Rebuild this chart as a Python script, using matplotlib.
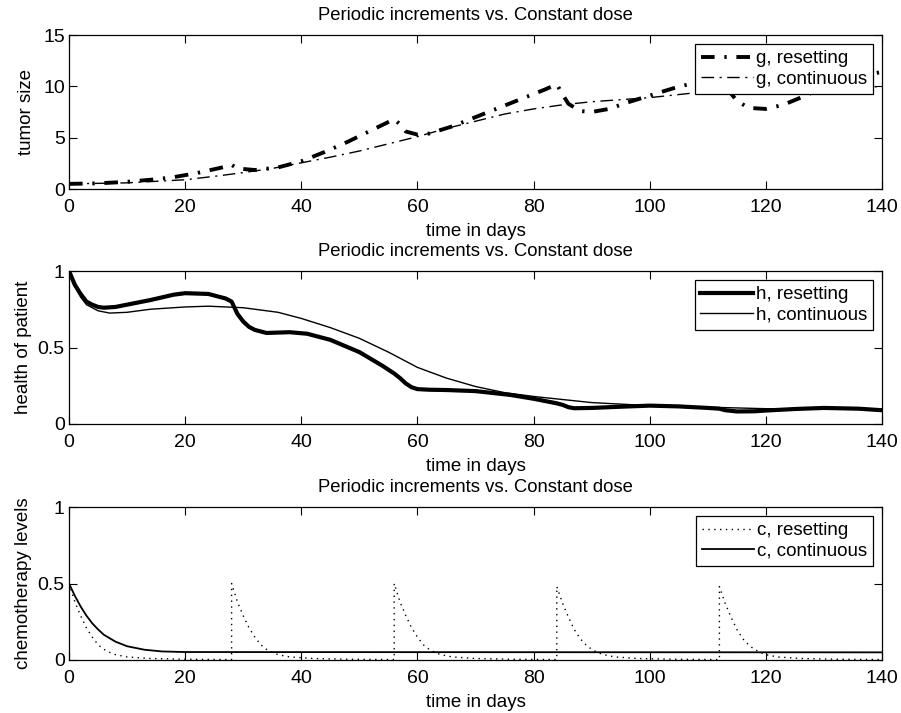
import numpy as np
import matplotlib
matplotlib.use("Agg")
import matplotlib.pyplot as plt

plt.rcParams["font.family"] = ["Liberation Sans", "DejaVu Sans"]
plt.rcParams["font.size"] = 13

TITLE = "Periodic increments vs. Constant dose"
XLABEL = "time in days"

# tumor size
t_g_reset = [0, 5, 10, 15, 18, 22, 26, 28, 29, 32, 36, 40, 44, 48, 52, 56, 57, 58, 60, 62,
             66, 70, 74, 78, 82, 84, 85, 86, 88, 90, 93, 96, 100, 104, 108, 112, 113, 115,
             117, 120, 123, 126, 130, 134, 138, 140]
g_reset = [0.5, 0.55, 0.7, 0.95, 1.15, 1.55, 2.05, 2.35, 2.0, 1.85, 2.1, 2.7, 3.6, 4.6, 5.7,
           6.8, 6.3, 5.6, 5.3, 5.4, 6.1, 7.0, 7.9, 8.8, 9.7, 10.2, 9.2, 8.3, 7.6, 7.5, 7.8,
           8.4, 9.1, 9.8, 10.4, 10.8, 10.0, 8.6, 7.9, 7.8, 8.2, 8.9, 9.9, 10.6, 11.2, 11.4]
t_g_cont = [0, 10, 20, 26, 30, 35, 40, 45, 50, 55, 60, 65, 70, 75, 80, 85, 90, 95, 100, 105,
            110, 115, 120, 125, 130, 135, 140]
g_cont = [0.5, 0.6, 0.9, 1.3, 1.6, 2.0, 2.55, 3.1, 3.7, 4.4, 5.1, 5.9, 6.6, 7.3, 7.8, 8.2,
          8.5, 8.7, 8.9, 9.2, 9.5, 9.7, 9.85, 9.95, 10.0, 10.0, 9.95]

# health of patient
t_h_reset = [0, 1, 2, 3, 4, 5, 6, 8, 10, 14, 18, 20, 24, 27, 28, 29, 30, 31, 32, 34, 38, 41,
             45, 50, 54, 56, 57, 58, 59, 60, 62, 65, 70, 76, 80, 84, 85, 86, 87, 90, 95, 100,
             105, 110, 112, 113, 115, 118, 120, 125, 130, 136, 140]
h_reset = [1.0, 0.91, 0.85, 0.8, 0.78, 0.765, 0.76, 0.765, 0.78, 0.81, 0.845, 0.855, 0.85,
           0.82, 0.80, 0.72, 0.67, 0.635, 0.615, 0.595, 0.6, 0.59, 0.55, 0.47, 0.38, 0.33,
           0.30, 0.265, 0.24, 0.228, 0.224, 0.222, 0.215, 0.19, 0.165, 0.135, 0.125, 0.11,
           0.103, 0.105, 0.113, 0.12, 0.115, 0.105, 0.1, 0.09, 0.082, 0.083, 0.088, 0.098,
           0.105, 0.1, 0.09]
t_h_cont = [0, 1, 2, 3, 5, 7, 10, 14, 20, 24, 30, 36, 40, 45, 50, 55, 60, 65, 70, 75, 80, 85,
            90, 95, 100, 105, 110, 115, 120, 130, 140]
h_cont = [1.0, 0.9, 0.83, 0.78, 0.74, 0.725, 0.73, 0.75, 0.765, 0.77, 0.76, 0.73, 0.69, 0.63,
          0.56, 0.47, 0.37, 0.3, 0.245, 0.205, 0.18, 0.16, 0.14, 0.13, 0.12, 0.115, 0.11,
          0.105, 0.1, 0.1, 0.095]

# chemotherapy levels
t_c_reset = [0, 1, 2, 3, 4, 5, 6, 7, 8, 10, 14, 20, 28,
             28, 29, 30, 31, 32, 33, 34, 35, 36, 38, 42, 48, 56,
             56, 57, 58, 59, 60, 61, 62, 63, 64, 66, 70, 76, 84,
             84, 85, 86, 87, 88, 89, 90, 91, 92, 94, 98, 104, 112,
             112, 113, 114, 115, 116, 117, 118, 119, 120, 122, 126, 132, 140]
c_reset = [0.5, 0.38, 0.29, 0.21, 0.15, 0.1, 0.07, 0.05, 0.035, 0.02, 0.01, 0.005, 0.003,
           0.5, 0.38, 0.29, 0.21, 0.15, 0.1, 0.07, 0.05, 0.035, 0.02, 0.01, 0.005, 0.003,
           0.5, 0.38, 0.29, 0.21, 0.15, 0.1, 0.07, 0.05, 0.035, 0.02, 0.01, 0.005, 0.003,
           0.48, 0.37, 0.28, 0.2, 0.14, 0.1, 0.07, 0.05, 0.035, 0.02, 0.01, 0.005, 0.003,
           0.48, 0.37, 0.28, 0.2, 0.14, 0.1, 0.07, 0.05, 0.035, 0.02, 0.01, 0.005, 0.003]
t_c_cont = [0, 1, 2, 3, 4, 5, 6, 8, 10, 13, 16, 20, 140]
c_cont = [0.5, 0.42, 0.35, 0.29, 0.24, 0.2, 0.165, 0.12, 0.09, 0.067, 0.056, 0.052, 0.05]


def style_axes(ax, yticks, ylabels, ylim):
    ax.set_xlim(0, 140)
    ax.set_ylim(*ylim)
    ax.set_xticks([0, 20, 40, 60, 80, 100, 120, 140])
    ax.set_yticks(yticks)
    ax.set_yticklabels(ylabels)
    ax.tick_params(direction="in", top=True, right=True, length=6, width=0.8, pad=3,
                   labelsize=14)
    ax.tick_params(axis="x", pad=7)
    for s in ax.spines.values():
        s.set_linewidth(0.9)
    ax.set_title(TITLE, fontsize=13.3, pad=11)
    ax.set_xlabel(XLABEL, fontsize=13.5, labelpad=5)


def add_legend(ax):
    leg = ax.legend(loc="upper right", fancybox=False, framealpha=1, edgecolor="black",
                    borderaxespad=0.5, handlelength=2.8, handletextpad=0.15,
                    borderpad=0.3, labelspacing=0.2, fontsize=13.5)
    leg.get_frame().set_linewidth(0.9)


fig = plt.figure(figsize=(9.01, 7.13), dpi=100)
left, width = 69 / 901, 813 / 901

ax1 = fig.add_axes([left, 1 - 189 / 713, width, 154 / 713])
ax1.plot(t_g_reset, g_reset, color="black", lw=2.8, dashes=(3.5, 2.5, 0.6, 2.5),
         label="g, resetting")
ax1.plot(t_g_cont, g_cont, color="black", lw=1.0, dashes=(9, 4, 1.5, 4),
         label="g, continuous")
style_axes(ax1, [0, 5, 10, 15], ["0", "5", "10", "15"], (0, 15))
ax1.set_ylabel("tumor size", fontsize=13.5, labelpad=6)
add_legend(ax1)

ax2 = fig.add_axes([left, 1 - 424 / 713, width, 153 / 713])
ax2.plot(t_h_reset, h_reset, color="black", lw=3.0, label="h, resetting")
ax2.plot(t_h_cont, h_cont, color="black", lw=1.0, label="h, continuous")
style_axes(ax2, [0, 0.5, 1], ["0", "0.5", "1"], (0, 1))
ax2.set_ylabel("health of patient", fontsize=13.5, labelpad=4)
add_legend(ax2)

ax3 = fig.add_axes([left, 1 - 660 / 713, width, 153 / 713])
ax3.plot(t_c_reset, c_reset, color="black", lw=1.0, dashes=(1, 3.2), label="c, resetting")
ax3.plot(t_c_cont, c_cont, color="black", lw=1.3, label="c, continuous")
style_axes(ax3, [0, 0.5, 1], ["0", "0.5", "1"], (0, 1))
ax3.set_ylabel("chemotherapy levels", fontsize=13.5, labelpad=4)
add_legend(ax3)

fig.savefig("out.png", dpi=100)
